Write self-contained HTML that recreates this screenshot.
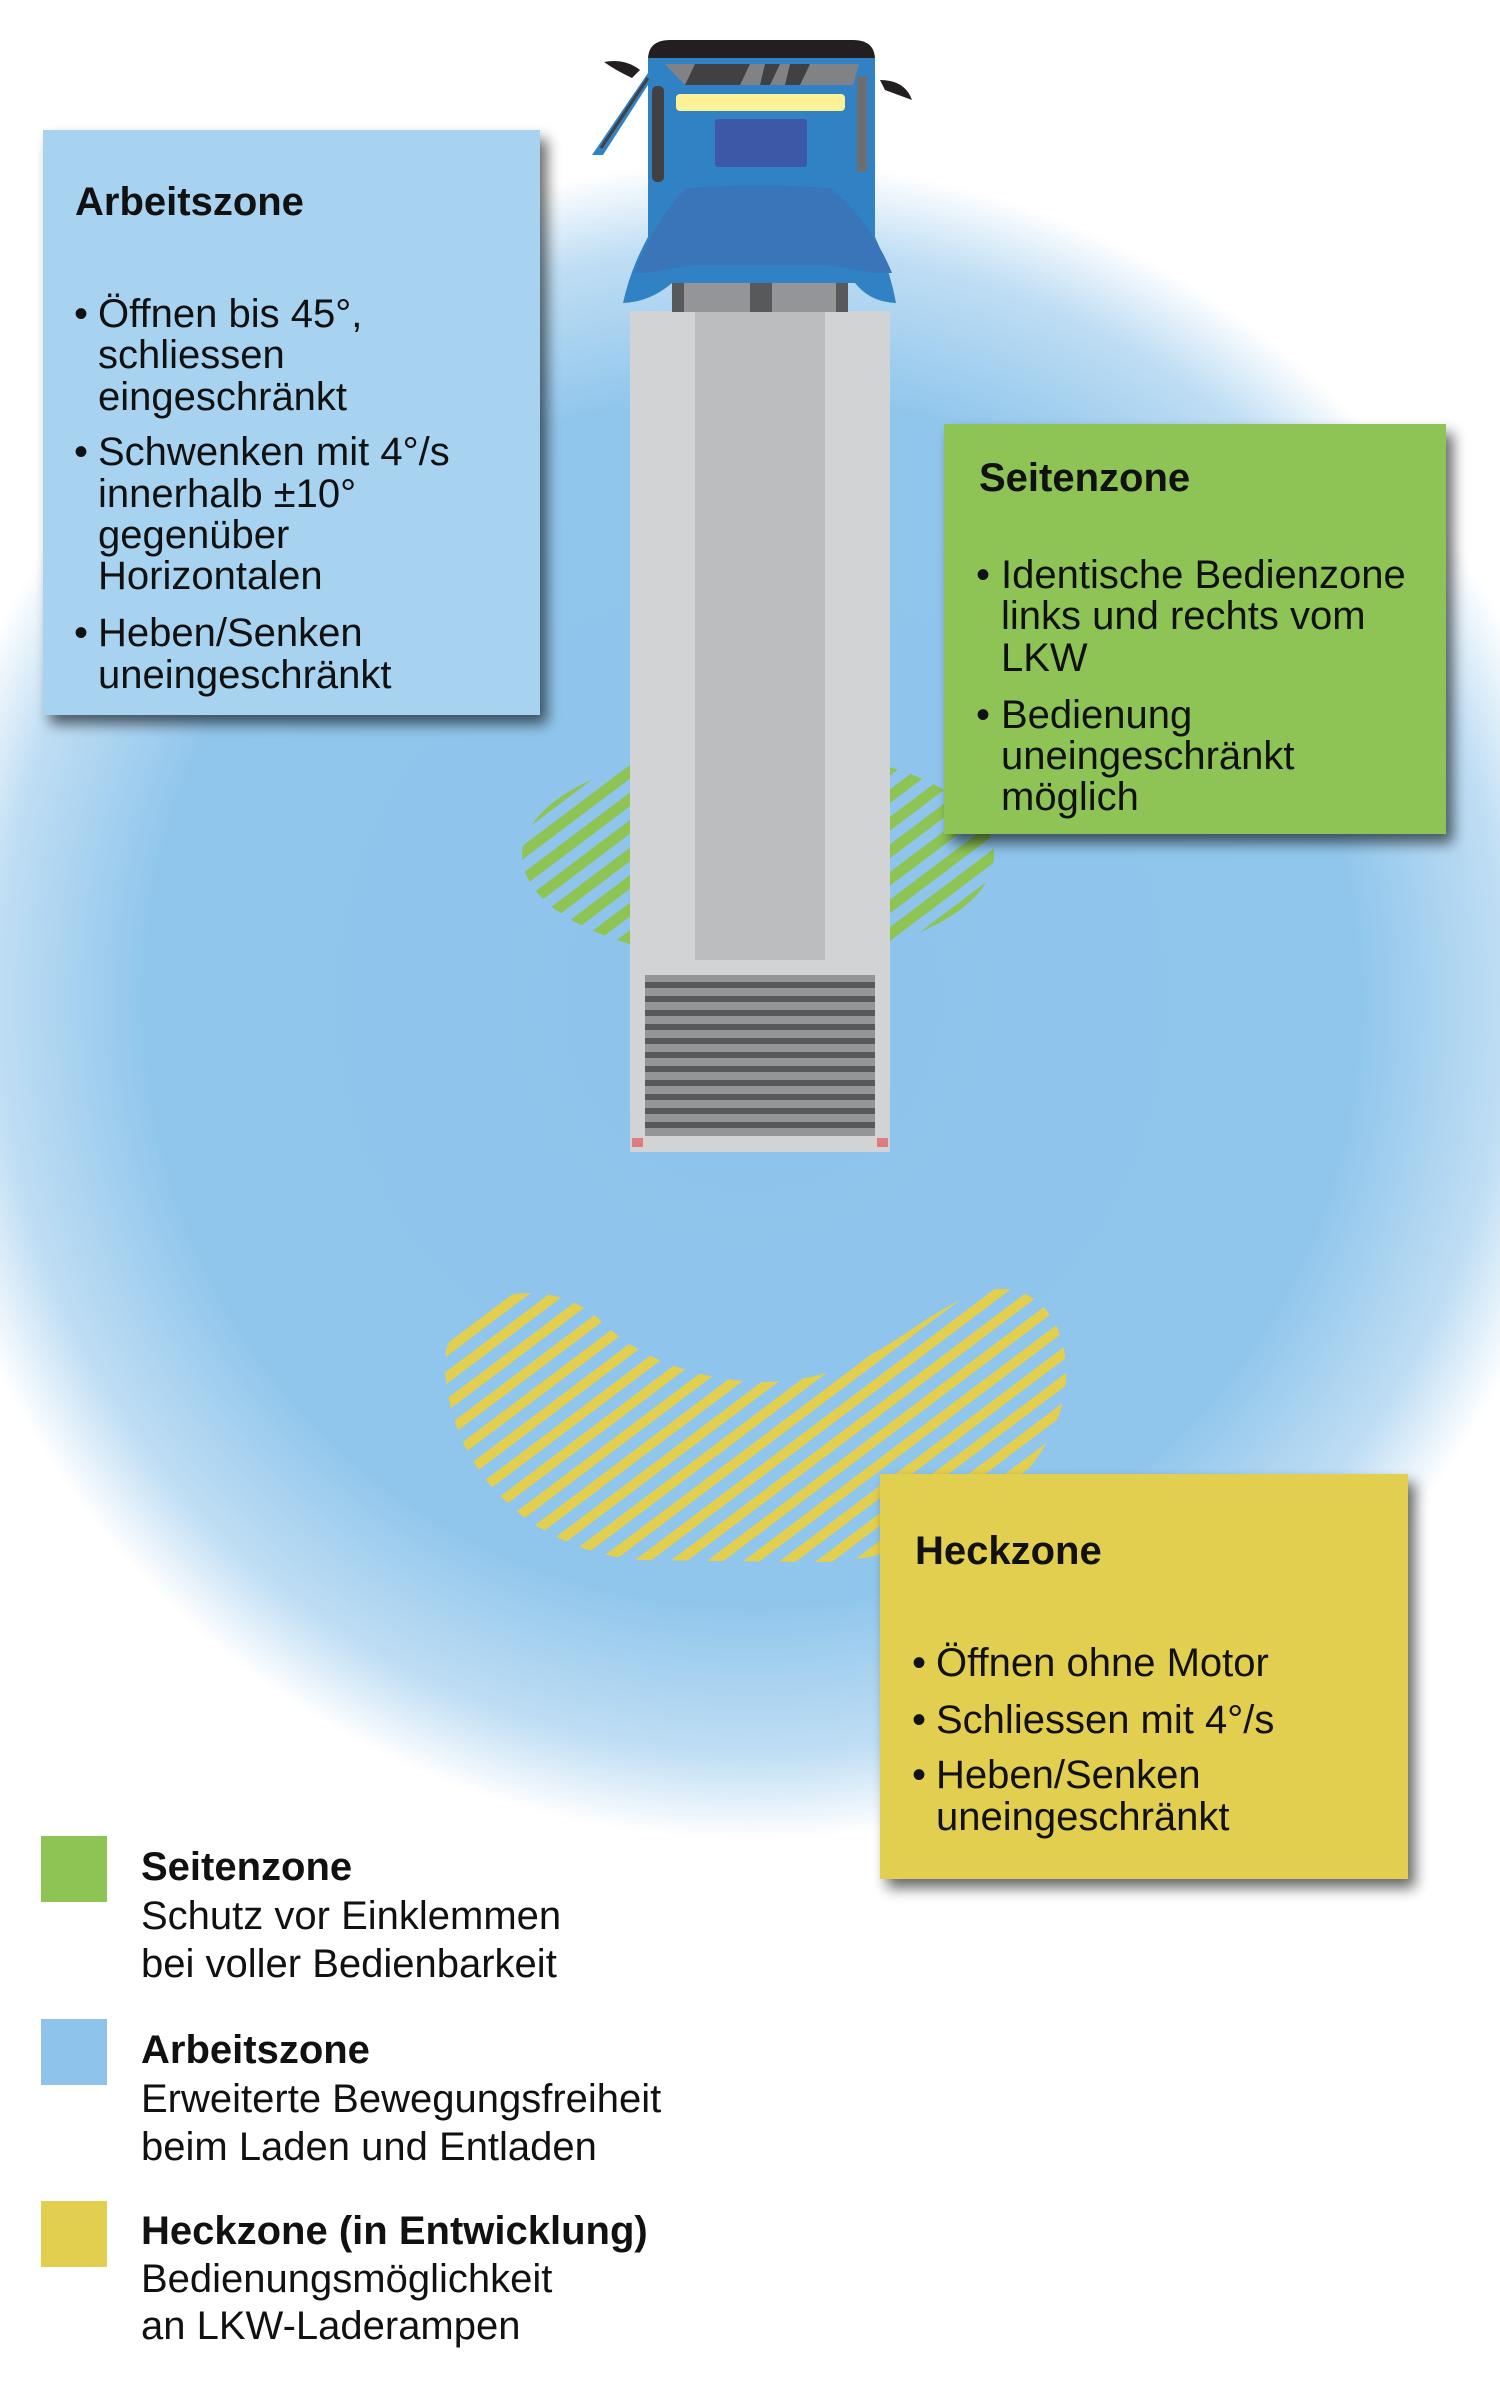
<!DOCTYPE html>
<html><head><meta charset="utf-8">
<style>
html,body{margin:0;padding:0;background:#fff;}
svg{display:block;}
text{font-family:"Liberation Sans",Arial,sans-serif;font-size:40px;fill:#111;}
.b{font-weight:bold;}
</style></head>
<body>
<svg width="1500" height="2407" viewBox="0 0 1500 2407" xmlns="http://www.w3.org/2000/svg">
<defs>
<radialGradient id="bg" cx="752" cy="1000" r="840" gradientUnits="userSpaceOnUse">
<stop offset="0" stop-color="#8ec4eb"/>
<stop offset="0.72" stop-color="#90c6ec"/>
<stop offset="0.9" stop-color="#c0def4"/>
<stop offset="1" stop-color="#ffffff"/>
</radialGradient>
<pattern id="hg" width="22" height="22" patternUnits="userSpaceOnUse" patternTransform="rotate(-37)">
<rect width="22" height="11" fill="#8dc454"/>
</pattern>
<pattern id="hy" width="22" height="22" patternUnits="userSpaceOnUse" patternTransform="rotate(-37)">
<rect width="22" height="10" fill="#e3cf4f"/>
</pattern>
<filter id="sh" x="-10%" y="-10%" width="125%" height="125%">
<feGaussianBlur in="SourceAlpha" stdDeviation="7"/>
<feOffset dx="7" dy="9"/>
<feComponentTransfer><feFuncA type="linear" slope="0.6"/></feComponentTransfer>
<feMerge><feMergeNode/><feMergeNode in="SourceGraphic"/></feMerge>
</filter>
</defs>

<rect width="1500" height="2407" fill="#fff"/>
<circle cx="752" cy="1000" r="840" fill="url(#bg)"/>

<!-- hatches -->
<ellipse cx="758" cy="855" rx="236" ry="106" fill="url(#hg)"/>
<path d="M445,1370 C440,1300 540,1265 600,1320 C640,1360 700,1380 760,1382 C860,1382 900,1330 960,1300 C1030,1265 1070,1320 1066,1380 C1060,1470 960,1558 820,1562 L640,1560 C540,1552 452,1480 445,1370 Z" fill="url(#hy)"/>

<!-- trailer -->
<rect x="630" y="311" width="260" height="841" fill="#d2d3d5"/>
<rect x="695" y="311" width="130" height="649" fill="#bcbdbf"/>
<rect x="645" y="975" width="230" height="161" fill="#939598"/>
<g fill="#58595b">
<rect x="645" y="982" width="230" height="6"/><rect x="645" y="996" width="230" height="6"/><rect x="645" y="1010" width="230" height="6"/><rect x="645" y="1024" width="230" height="6"/><rect x="645" y="1038" width="230" height="6"/><rect x="645" y="1052" width="230" height="6"/><rect x="645" y="1066" width="230" height="6"/><rect x="645" y="1080" width="230" height="6"/><rect x="645" y="1094" width="230" height="6"/><rect x="645" y="1108" width="230" height="6"/><rect x="645" y="1122" width="230" height="6"/>
</g>
<rect x="632" y="1138" width="11" height="9" fill="#e07b7b"/>
<rect x="877" y="1138" width="11" height="9" fill="#e07b7b"/>

<!-- cab -->
<rect x="672" y="280" width="176" height="32" fill="#939598"/>
<rect x="672" y="280" width="12" height="32" fill="#58595b"/>
<rect x="836" y="280" width="12" height="32" fill="#58595b"/>
<rect x="750" y="280" width="22" height="32" fill="#58595b"/>
<path d="M648,60 Q648,40 670,40 L853,40 Q875,40 875,60 L875,80 L648,80 Z" fill="#231f20"/>
<path d="M648,58 L875,58 L875,237 Q890,270 896,303 Q870,302 855,283 L672,283 Q650,302 623,303 Q630,270 648,237 Z" fill="#3182c4"/>
<path d="M686,188 Q760,183 830,188 Q870,220 892,273 L875,273 Q840,266 820,265 L700,265 Q680,266 648,273 L634,273 Q655,220 686,188 Z" fill="#3a75ba"/>
<path d="M665,64 L859,64 L853,85 L685,85 Z" fill="#808285"/>
<path d="M695,64 L750,64 L740,85 L685,85 Z M765,64 L780,64 L770,85 L760,85 Z M790,64 L810,64 L800,85 L785,85 Z" fill="#414042"/>
<rect x="676" y="94" width="169" height="17" rx="4" fill="#fcf196"/>
<rect x="715" y="119" width="92" height="48" rx="3" fill="#3d58a7"/>
<rect x="652" y="86" width="12" height="96" rx="5" fill="#414042"/>
<rect x="857" y="76" width="10" height="96" fill="#6d6e71"/>
<path d="M650,70 L655,74 L603,155 L592,155 Z" fill="#3182c4"/>
<path d="M648,78 L601,148" stroke="#414042" stroke-width="3"/>
<path d="M604,62 Q625,58 640,70 L632,78 Q615,70 604,62 Z" fill="#231f20"/>
<path d="M880,80 Q905,80 912,100 L885,90 Z" fill="#231f20"/>

<!-- boxes -->
<g filter="url(#sh)">
<rect x="43" y="130" width="497" height="585" fill="#a7d3f0"/>
<rect x="944" y="424" width="502" height="410" fill="#8dc454"/>
<rect x="880" y="1474" width="528" height="405" fill="#e3cf4f"/>
</g>

<!-- Arbeitszone text -->
<text class="b" x="75" y="215">Arbeitszone</text>
<text x="74" y="327">•</text><text x="98" y="327">Öffnen bis 45°,</text>
<text x="98" y="368">schliessen</text>
<text x="98" y="410">eingeschränkt</text>
<text x="74" y="465">•</text><text x="98" y="465">Schwenken mit 4°/s</text>
<text x="98" y="507">innerhalb ±10°</text>
<text x="98" y="548">gegenüber</text>
<text x="98" y="589">Horizontalen</text>
<text x="74" y="646">•</text><text x="98" y="646">Heben/Senken</text>
<text x="98" y="688">uneingeschränkt</text>

<!-- Seitenzone text -->
<text class="b" x="979" y="491">Seitenzone</text>
<text x="976" y="588">•</text><text x="1001" y="588">Identische Bedienzone</text>
<text x="1001" y="629">links und rechts vom</text>
<text x="1001" y="671">LKW</text>
<text x="976" y="728">•</text><text x="1001" y="728">Bedienung</text>
<text x="1001" y="769">uneingeschränkt</text>
<text x="1001" y="810">möglich</text>

<!-- Heckzone text -->
<text class="b" x="915" y="1564">Heckzone</text>
<text x="912" y="1676">•</text><text x="936" y="1676">Öffnen ohne Motor</text>
<text x="912" y="1733">•</text><text x="936" y="1733">Schliessen mit 4°/s</text>
<text x="912" y="1788">•</text><text x="936" y="1788">Heben/Senken</text>
<text x="936" y="1830">uneingeschränkt</text>

<!-- legend -->
<rect x="41" y="1836" width="66" height="66" fill="#8dc454"/>
<rect x="41" y="2019" width="66" height="66" fill="#8ec4eb"/>
<rect x="41" y="2201" width="66" height="66" fill="#e3cf4f"/>
<text class="b" x="141" y="1880">Seitenzone</text>
<text x="141" y="1929">Schutz vor Einklemmen</text>
<text x="141" y="1977">bei voller Bedienbarkeit</text>
<text class="b" x="141" y="2063">Arbeitszone</text>
<text x="141" y="2112">Erweiterte Bewegungsfreiheit</text>
<text x="141" y="2160">beim Laden und Entladen</text>
<text class="b" x="141" y="2244">Heckzone (in Entwicklung)</text>
<text x="141" y="2292">Bedienungsmöglichkeit</text>
<text x="141" y="2339">an LKW-Laderampen</text>
</svg>
</body></html>
